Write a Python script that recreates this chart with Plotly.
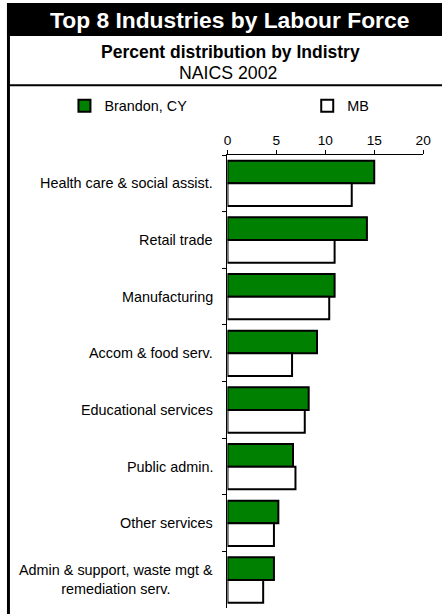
import plotly.graph_objects as go

categories = [
    "Health care & social assist.",
    "Retail trade",
    "Manufacturing",
    "Accom & food serv.",
    "Educational services",
    "Public admin.",
    "Other services",
    "Admin & support, waste mgt &<br>remediation serv.",
]
brandon = [15.0, 14.25, 10.95, 9.15, 8.3, 6.7, 5.2, 4.75]
mb = [12.7, 10.95, 10.4, 6.6, 7.9, 6.95, 4.75, 3.65]
x_ticks = [0, 5, 10, 15, 20]

W, H = 442, 614
FIG_W = 450
FONT = "Liberation Sans, Arial, sans-serif"


def px(x):
    return x / W


def py(y):
    return 1 - y / H


fig = go.Figure()
fig.add_trace(go.Bar(
    y=categories, x=brandon, name="Brandon, CY", orientation="h",
    marker=dict(color="#008000", line=dict(color="black", width=2)),
    legend="legend",
))
fig.add_trace(go.Bar(
    y=categories, x=mb, name="MB", orientation="h",
    marker=dict(color="white", line=dict(color="black", width=2)),
    legend="legend2",
))

annotations = [
    dict(text="<b>Top 8 Industries by Labour Force</b>", x=px(227.5), y=py(20),
         xref="paper", yref="paper", showarrow=False,
         font=dict(family=FONT, size=22.8, color="white"), xanchor="center", yanchor="middle"),
    dict(text="<b>Percent distribution by Indistry</b>", x=px(228.5), y=py(52),
         xref="paper", yref="paper", showarrow=False,
         font=dict(family=FONT, size=17.5, color="black"), xanchor="center", yanchor="middle"),
    dict(text="NAICS 2002", x=px(226), y=py(73.5),
         xref="paper", yref="paper", showarrow=False,
         font=dict(family=FONT, size=17.7, color="black"), xanchor="center", yanchor="middle"),
]
for c in categories:
    annotations.append(dict(
        text=c, x=px(213), y=c, xref="paper", yref="y", showarrow=False,
        xanchor="right", yanchor="middle", align="center",
        font=dict(family=FONT, size=14.4, color="black"),
    ))

shapes = [
    dict(type="rect", xref="paper", yref="paper", x0=px(3), x1=1.02, y0=py(36), y1=py(3),
         fillcolor="black", line=dict(width=0), layer="below"),
    dict(type="rect", xref="paper", yref="paper", x0=px(3), x1=px(6), y0=-0.02, y1=py(3),
         fillcolor="black", line=dict(width=0), layer="below"),
    dict(type="line", xref="paper", yref="paper", x0=px(3), x1=1.02, y0=py(85.3), y1=py(85.3),
         line=dict(color="black", width=2)),
]

legend_common = dict(orientation="h", yanchor="middle", xanchor="left",
                     font=dict(family=FONT, size=14.4, color="black"),
                     bgcolor="rgba(0,0,0,0)", itemwidth=30)

fig.update_layout(
    width=FIG_W, height=H,
    margin=dict(l=0, r=0, t=0, b=0),
    paper_bgcolor="white", plot_bgcolor="white",
    barmode="group", bargap=0.2, bargroupgap=0,
    font=dict(family=FONT, size=14, color="black"),
    showlegend=True,
    legend=dict(x=px(61), y=py(106), **legend_common),
    legend2=dict(x=px(306), y=py(106), **legend_common),
    xaxis=dict(domain=[px(225.5), px(423)], range=[0, 20], side="top",
               tickvals=x_ticks, ticks="outside", ticklen=4, tickcolor="black",
               showline=True, linecolor="black", linewidth=1, showgrid=False,
               zeroline=False, tickfont=dict(family=FONT, size=13.7, color="black"),
               fixedrange=True),
    yaxis=dict(domain=[py(608.3), py(155)], autorange="reversed", type="category",
               categoryorder="array", categoryarray=categories,
               showticklabels=False, ticks="outside", ticklen=4, tickcolor="black",
               tickson="boundaries", showline=True, linecolor="black", linewidth=1,
               showgrid=False, zeroline=False, fixedrange=True),
    annotations=annotations,
    shapes=shapes,
)

fig.write_html(
    "out.html",
    config={"displayModeBar": False, "responsive": False},
    post_script="document.body.style.margin='0';document.body.style.overflow='hidden';"
                "document.documentElement.style.overflow='hidden';",
)
